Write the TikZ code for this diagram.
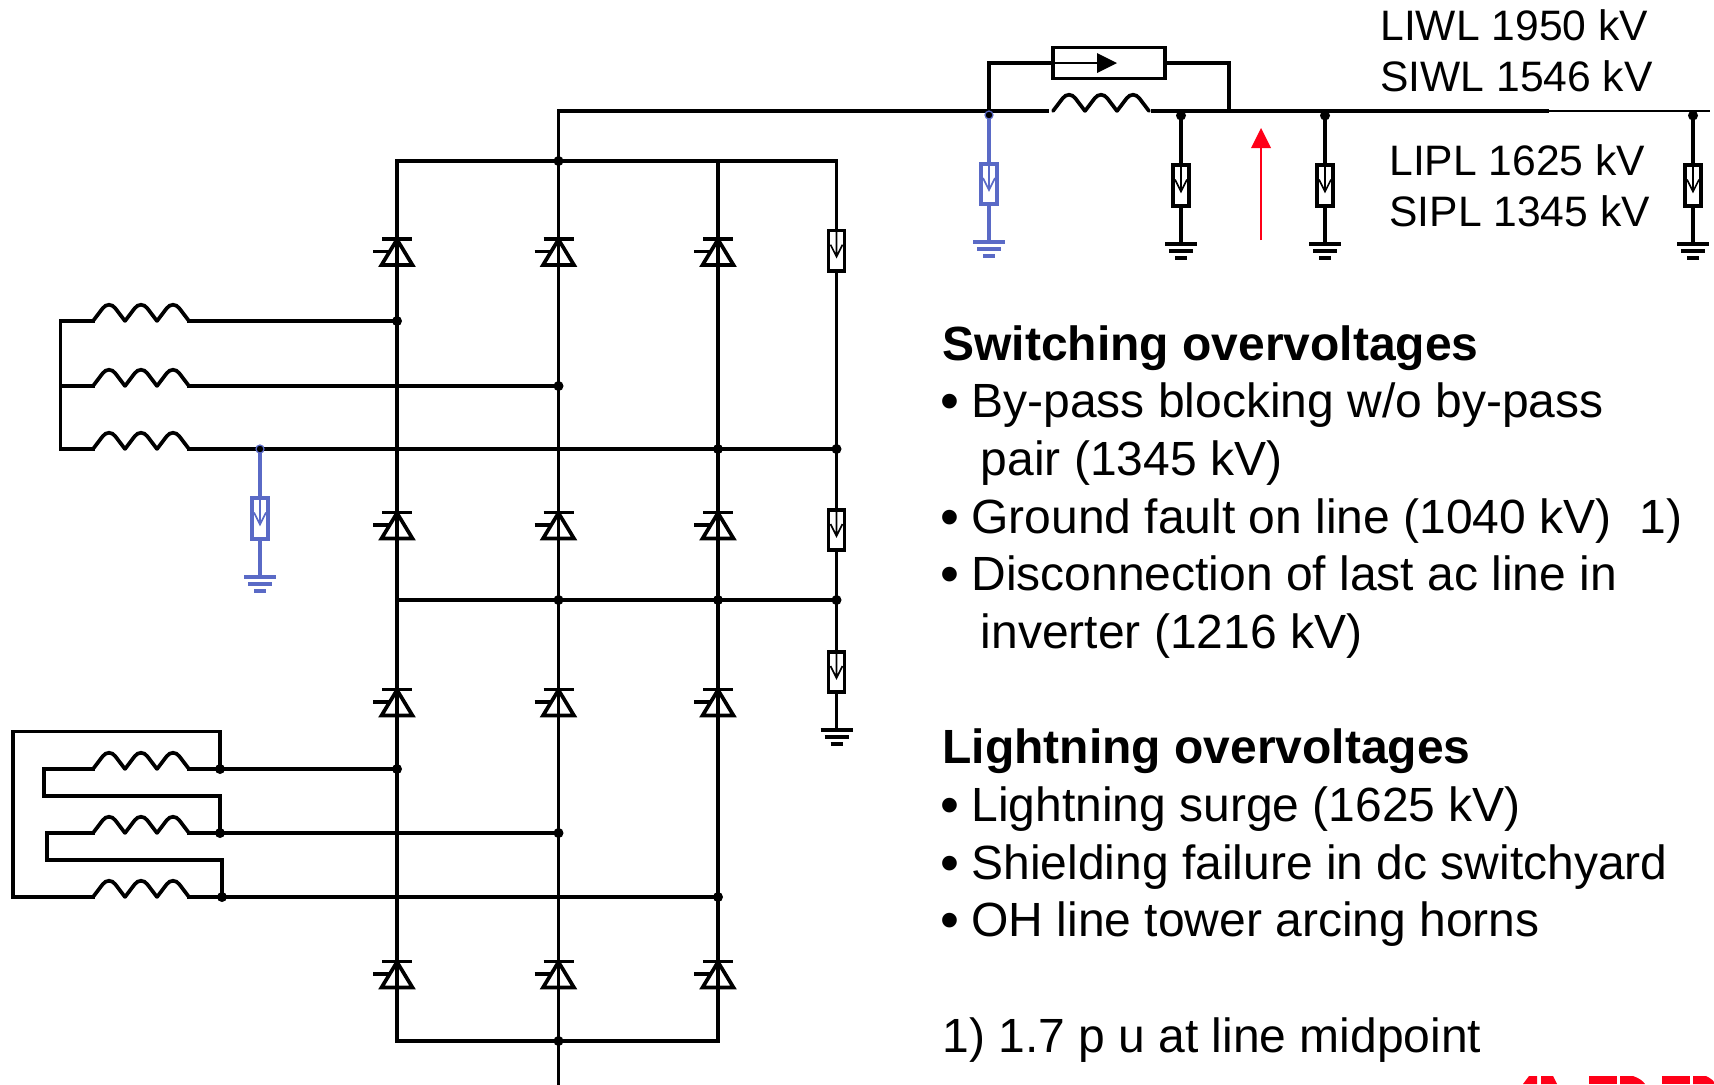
\documentclass[tikz,border=0pt]{standalone}
\usepackage{fontspec}
\setmainfont{Liberation Sans}
\definecolor{wireblue}{HTML}{5A6AC6}
\definecolor{logored}{HTML}{FF0018}
\tikzset{
  x=0.5pt,y=-0.5pt,
  wire/.style={line width=1.85pt,line join=miter,line cap=rect},
  dot/.style={circle,fill,inner sep=0pt,minimum size=5pt},
  arr/.style={draw,fill=white,line width=1.85pt,minimum width=8pt,minimum height=20.2pt,inner sep=0pt,
    path picture={\draw[line width=.8pt] (path picture bounding box.north) -- (path picture bounding box.center) ++(0,6)
      ++(-6,-12) -- ++(6,12) -- ++(6,-12) ++(-6,12) -- ++(0,-30);}},
  lbl/.style={anchor=base west,inner sep=0pt,font=\fontsize{24}{24}\selectfont},
  bul/.style={anchor=base west,inner sep=0pt,font=\fontsize{27}{27}\selectfont},
  toplbl/.style={anchor=base west,inner sep=0pt,font=\fontsize{21.3}{21.3}\selectfont},
  hd/.style={lbl,font=\fontsize{24}{24}\selectfont\bfseries},
  gnd/.pic={\draw[wire,line cap=butt] (-16,0) -- (16,0) (-12,7) -- (12,7) (-6,14) -- (6,14);},
  hump/.pic={\draw[wire,line cap=round,line join=round]
     (0,0) -- (9.5,-12.5) .. controls (13,-17.5) and (19,-17.5) .. (22.5,-12.5) -- (32,0);},
  coilshape/.pic={\pic at (0,0) {hump}; \pic at (32,0) {hump}; \pic at (64,0) {hump};},
  thy/.pic={\draw[wire,line cap=butt] (-15,-13.5) -- (15,-13.5) (-24,-1) -- (-7,-1);
     \draw[wire] (0,-13) -- (-15.5,12.5) -- (15.5,12.5) -- cycle;},
  ring/.style={circle,draw=wireblue,fill=black,line width=.6pt,inner sep=0pt,minimum size=4pt},
}
\begin{document}
\begin{tikzpicture}
\useasboundingbox (0,0) rectangle (1714,1084);
% columns and rows
\coordinate (A0) at (397,161); \coordinate (B0) at (558.5,161); \coordinate (C0) at (718,161); \coordinate (D0) at (836.5,161);
\coordinate (B00) at (558.5,111);
\coordinate (A9) at (397,1041); \coordinate (B9) at (558.5,1041); \coordinate (C9) at (718,1041);
\coordinate (B10) at (558.5,1090);
% bridge
\draw[wire] (A0) -- (D0);
\draw[wire] (A9) -- (C9);
\draw[wire] (A0) -- (A9);
\draw[wire] (B00) -- (B10);
\draw[wire] (C0) -- (C9);
\coordinate (gD) at (836.5,730);
\node[arr] (d1) at (836.5,250.7) {};
\node[arr] (d2) at (836.5,530) {};
\node[arr] (d3) at (836.5,672) {};
\draw[wire] (D0) -- (d1) -- (d2) -- (d3) -- (gD);
\pic at (gD) {gnd};
% mid bus
\coordinate (A6) at (397,600); \coordinate (B6) at (558.5,600); \coordinate (C6) at (718,600); \coordinate (D6) at (836.5,600);
\draw[wire] (A6) -- (D6);
% thyristors
\foreach \yy in {252.5,526,703,975} \foreach \xx in {397,558.5,718} \pic at (\xx,\yy) {thy};
% upper valve winding
\foreach \n/\yy in {1/321,2/386,3/449} {
  \coordinate (ul\n) at (93,\yy); \coordinate (ur\n) at (189,\yy);
  \pic at (ul\n) {coilshape};
}
\coordinate (U1) at (397,321); \coordinate (U2) at (558.5,386); \coordinate (U3) at (836.5,449);
\coordinate (UL1) at (60.5,321); \coordinate (UL3) at (60.5,449); \coordinate (UL2) at (60.5,386);
\draw[wire] (ur1) -- (U1);
\draw[wire] (ur2) -- (U2);
\draw[wire] (ur3) -- (U3);
\draw[wire] (ul1) -- (UL1) -- (UL3) -- (ul3);
\draw[wire] (UL2) -- (ul2);
% lower valve winding
\foreach \n/\yy in {1/769,2/833,3/897} {
  \coordinate (ll\n) at (93,\yy); \coordinate (lr\n) at (189,\yy);
  \pic at (ll\n) {coilshape};
}
\coordinate (L1) at (397,769); \coordinate (L2) at (558.5,833); \coordinate (L3) at (718,897);
\coordinate (J1) at (220,769); \coordinate (J2) at (220,833); \coordinate (J3) at (222,897);
\draw[wire] (lr1) -- (L1);
\draw[wire] (lr2) -- (L2);
\draw[wire] (lr3) -- (L3);
\draw[wire] (ll3) -- (13,897) -- (13,731.5) -- (220,731.5) -- (J1);
\draw[wire] (ll1) -- (44,769) -- (44,796) -- (220,796) -- (J2);
\draw[wire] (ll2) -- (47,833) -- (47,860) -- (222,860) -- (J3);
% dots
\foreach \p in {B0,U1,U2,L1,L2,L3,J1,J2,J3,B9,B6,C6,D6,U3} \node[dot] at (\p) {};
\node[dot] (cross) at (718,449) {};
% blue valve-side arrester
\coordinate (vb) at (260,449); \coordinate (vg) at (260,577);
\node[arr,color=wireblue,fill=white] (v1) at (260,518.5) {};
\draw[wire,wireblue] (vb) -- (v1) -- (vg);
\pic[wireblue] at (vg) {gnd};
\node[ring] (vr) at (vb) {};
% dc line
\coordinate (p0) at (989,111); \coordinate (p1) at (1049,111); \coordinate (p2) at (1053,111);
\coordinate (p3) at (1151,111); \coordinate (p4) at (1229,111); \coordinate (p5) at (1549,111); \coordinate (p6) at (1710,111);
\draw[wire,line cap=butt] (B00) -- (p1);
\draw[wire,line cap=butt] (p3) -- (p5);
\draw[line width=.8pt] (p5) -- (p6);
\pic at (p2) {coilshape};
\node[draw,line width=1.85pt,minimum width=55.7pt,minimum height=15.5pt,inner sep=0pt] (sm) at (1109,63) {};
\draw[wire] (p0) -- (989,63) -- (sm.west);
\draw[wire] (sm.east) -- (1229,63) -- (p4);
\draw[line width=.7pt] (sm.west) -- (1098,63);
\fill (1097,53) -- (1117,63) -- (1097,73) -- cycle;
% line arresters
\node[arr,color=wireblue,fill=white] (a0) at (989,184) {};
\coordinate (g0) at (989,241.7);
\draw[wire,wireblue] (989,115) -- (a0) -- (g0);
\pic[wireblue] at (g0) {gnd};
\node[ring] (r0) at (989,115) {};
\foreach \n/\xx in {1/1181,2/1325,3/1693} {
  \coordinate (t\n) at (\xx,115.5);
  \coordinate (g\n) at (\xx,244);
  \node[arr] (a\n) at (\xx,185.5) {};
  \draw[wire] (t\n) -- (a\n) -- (g\n);
  \pic at (g\n) {gnd};
  \node[dot,minimum size=5pt] at (t\n) {};
}
% red arrow
\coordinate (ra) at (1261,240); \coordinate (rb) at (1261,148);
\draw[logored,line width=.9pt] (ra) -- (rb);
\fill[logored] (1251,148) -- (1261,128) -- (1271,148) -- cycle;
% labels
\node[toplbl] (t1) at (1380,40) {LIWL 1950 kV};
\node[toplbl] (t2) at (1380,91.5) {SIWL 1546 kV};
\node[toplbl] (t3) at (1389,175.5) {LIPL 1625 kV};
\node[toplbl] (t4) at (1389,226) {SIPL 1345 kV};
\node[hd] (h1) at (942,360) {Switching overvoltages};
\node[bul] (b1) at (940,419.5) {•}; \node[lbl] (s1) at (971,417.6) {By-pass blocking w/o by-pass};
\node[lbl] (s1b) at (980.5,475.5) {pair (1345 kV)};
\node[bul] (b2) at (940,535.5) {•}; \node[lbl] (s2) at (971,533.4) {Ground fault on line (1040 kV)};
\node[lbl] (s2b) at (1639,533.4) {1)};
\node[bul] (b3) at (940,592.5) {•}; \node[lbl] (s3) at (971,590.3) {Disconnection of last ac line in};
\node[lbl] (s3b) at (980.5,648.2) {inverter (1216 kV)};
\node[hd] (h2) at (942,763) {Lightning overvoltages};
\node[bul] (b4) at (940,823) {•}; \node[lbl] (s4) at (971,821) {Lightning surge (1625 kV)};
\node[bul] (b5) at (940,881) {•}; \node[lbl] (s5) at (971,879) {Shielding failure in dc switchyard};
\node[bul] (b6) at (940,938) {•}; \node[lbl] (s6) at (971,936.5) {OH line tower arcing horns};
\node[lbl] (note) at (942,1052.7) {1) 1.7 p u at line midpoint};
% logo top edge, cut by the page
\fill[logored] (1523,1084) -- (1529,1076) -- (1537,1076) -- (1537,1084) -- cycle;
\fill[logored] (1541,1084) -- (1541,1076) -- (1553,1076) -- (1557,1084) -- cycle;
\fill[logored] (1589,1076) rectangle (1617,1084);
\fill[logored] (1620,1084) -- (1620,1076) -- (1633,1076) .. controls (1639,1078) and (1643,1081) .. (1645,1084) -- cycle;
\fill[logored] (1662,1076) rectangle (1690,1084);
\fill[logored] (1693,1084) -- (1693,1076) -- (1706,1076) .. controls (1710,1078) and (1713,1080) .. (1714,1082) -- (1714,1084) -- cycle;
\end{tikzpicture}
\end{document}
